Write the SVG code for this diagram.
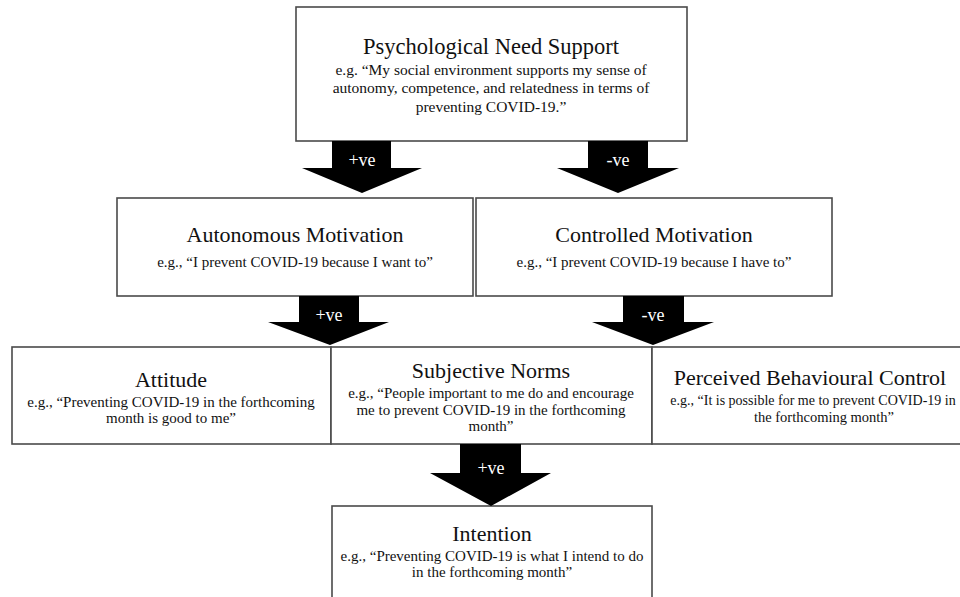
<svg xmlns="http://www.w3.org/2000/svg" width="960" height="597" viewBox="0 0 960 597">
<style>
.box{fill:#fff;stroke:#4a4a4a;stroke-width:1.6}
.t{font-family:"Liberation Serif","Times New Roman",serif;fill:#111;text-anchor:middle}
.h{font-size:22px}
.e{font-size:15px}
.arr{fill:#000}
.lbl{font-family:"Liberation Serif","Times New Roman",serif;font-size:18px;fill:#fff;text-anchor:middle}
</style>
<rect width="960" height="597" fill="#fff"/>
<g id="node-pns">
<rect class="box" x="296" y="7" width="391" height="134"/>
<text class="t h" x="491" y="54" style="font-size:22.5px">Psychological Need Support</text>
<text class="t e" x="491" y="75" style="font-size:15.5px">e.g. “My social environment supports my sense of</text>
<text class="t e" x="491" y="93" style="font-size:15.5px">autonomy, competence, and relatedness in terms of</text>
<text class="t e" x="491" y="112" style="font-size:15.5px">preventing COVID-19.”</text>
</g>
<g id="node-autonomous">
<rect class="box" x="117" y="198" width="356" height="98"/>
<text class="t h" x="295" y="242">Autonomous Motivation</text>
<text class="t e" x="295" y="267">e.g., “I prevent COVID-19 because I want to”</text>
</g>
<g id="node-controlled">
<rect class="box" x="476" y="198" width="356" height="98"/>
<text class="t h" x="654" y="242">Controlled Motivation</text>
<text class="t e" x="654" y="267">e.g., “I prevent COVID-19 because I have to”</text>
</g>
<g id="node-attitude">
<rect class="box" x="12" y="347" width="319" height="97"/>
<text class="t h" x="171" y="387">Attitude</text>
<text class="t e" x="171" y="407">e.g., “Preventing COVID-19 in the forthcoming</text>
<text class="t e" x="171" y="423">month is good to me”</text>
</g>
<g id="node-norms">
<rect class="box" x="331" y="347" width="321" height="97"/>
<text class="t h" x="491" y="378">Subjective Norms</text>
<text class="t e" x="491" y="398">e.g., “People important to me do and encourage</text>
<text class="t e" x="491" y="415">me to prevent COVID-19 in the forthcoming</text>
<text class="t e" x="491" y="431">month”</text>
</g>
<g id="node-pbc">
<rect class="box" x="652" y="347" width="330" height="97"/>
<text class="t h" x="810" y="385">Perceived Behavioural Control</text>
<text class="t e" x="813" y="405" style="font-size:14px">e.g., “It is possible for me to prevent COVID-19 in</text>
<text class="t e" x="824" y="422" style="font-size:14.5px">the forthcoming month”</text>
</g>
<g id="node-intention">
<rect class="box" x="332" y="506" width="320" height="100"/>
<text class="t h" x="492" y="541">Intention</text>
<text class="t e" x="492" y="561">e.g., “Preventing COVID-19 is what I intend to do</text>
<text class="t e" x="492" y="577">in the forthcoming month”</text>
</g>
<g id="connectors">
<polygon class="arr" points="332,141 391,141 391,168 422,168 362,193 302,168 332,168"/>
<text class="lbl" x="362" y="166">+ve</text>
<polygon class="arr" points="588,141 648,141 648,168 679,168 618,193 557,168 588,168"/>
<text class="lbl" x="618" y="166">-ve</text>
<polygon class="arr" points="299,296 359,296 359,322 389,322 330,345 268,322 299,322"/>
<text class="lbl" x="329" y="321">+ve</text>
<polygon class="arr" points="623,296 684,296 684,322 714,322 653,345 592,322 623,322"/>
<text class="lbl" x="653" y="321">-ve</text>
<polygon class="arr" points="460,444 521,444 521,473 551,473 491,506 430,473 460,473"/>
<text class="lbl" x="491" y="474">+ve</text>
</g>
</svg>
